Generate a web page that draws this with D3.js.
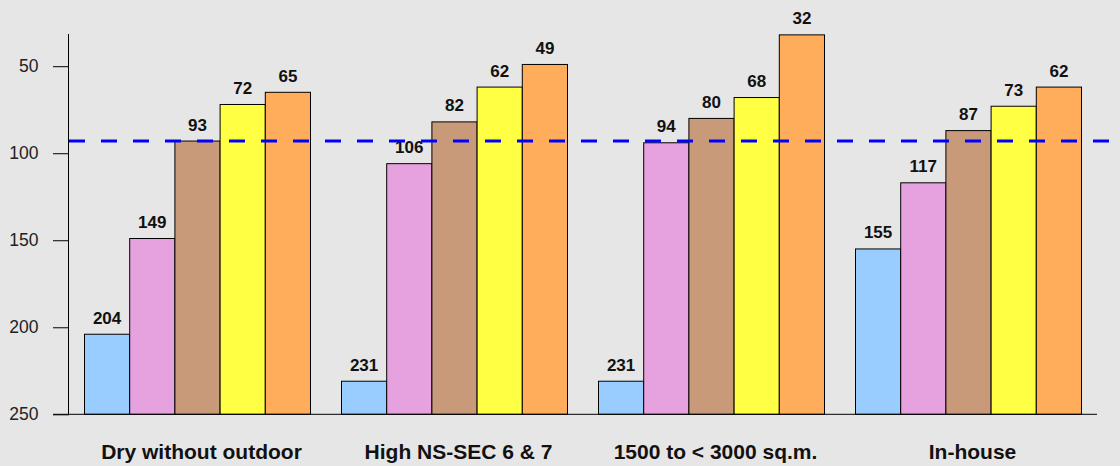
<!DOCTYPE html>
<html><head><meta charset="utf-8">
<script src="https://cdn.jsdelivr.net/npm/d3@7"></script>
<style>
html,body{margin:0;padding:0;background:#e6e6e6;}
svg{display:block;font-family:"Liberation Sans",Arial,sans-serif;}
</style></head>
<body>
<svg id="chart" width="1120" height="466"></svg>
<script>
const categories = ["Dry without outdoor", "High NS-SEC 6 & 7", "1500 to < 3000 sq.m.", "In-house"];
const seriesNames = ["Series 1", "Series 2", "Series 3", "Series 4", "Series 5"];
const seriesColors = ["#99ccff", "#e6a2de", "#c89a7a", "#ffff44", "#ffad5b"];
const series1 = [204, 231, 231, 155];
const series2 = [149, 106, 94, 117];
const series3 = [93, 82, 80, 87];
const series4 = [72, 62, 68, 73];
const series5 = [65, 49, 32, 62];
const referenceValue = 93;
const yTicks = [50, 100, 150, 200, 250];
const yMin = 250, yMax = 31.5;

(function () {
const allSeries = [series1, series2, series3, series4, series5];
const W = 1120, H = 466;
const mLeft = 69, mRight = 1097, mTop = 34, mBottom = 414.3;

const svg = d3.select("#chart");
svg.append("rect").attr("width", W).attr("height", H).attr("fill", "#e6e6e6");

const x0 = d3.scaleBand().domain(categories).range([mLeft, mRight]).paddingInner(31/257).paddingOuter(15.5/257);
const x1 = d3.scaleBand().domain(seriesNames).range([0, x0.bandwidth()]).padding(0);
const y = d3.scaleLinear().domain([yMin, yMax]).range([mBottom, mTop]);

const g = svg.append("g");
categories.forEach((c, ci) => {
  allSeries.forEach((s, si) => {
    const v = s[ci];
    const bx = x0(c) + x1(seriesNames[si]);
    g.append("rect")
      .attr("x", bx)
      .attr("y", y(v))
      .attr("width", x1.bandwidth())
      .attr("height", y(yMin) - y(v))
      .attr("fill", seriesColors[si])
      .attr("stroke", "#000")
      .attr("stroke-width", 1);
    g.append("text")
      .attr("x", bx + x1.bandwidth() / 2)
      .attr("y", y(v) - 10.5)
      .attr("text-anchor", "middle")
      .attr("font-size", 17)
      .attr("font-weight", "bold")
      .attr("fill", "#111")
      .text(v);
  });
});

svg.append("line")
  .attr("x1", mLeft).attr("x2", W)
  .attr("y1", y(referenceValue)).attr("y2", y(referenceValue))
  .attr("stroke", "#0000ff").attr("stroke-width", 3)
  .attr("stroke-dasharray", "16,16");

const yAxis = d3.axisLeft(y).tickValues(yTicks).tickSize(16).tickPadding(14.5);
const ya = svg.append("g").attr("transform", `translate(${mLeft},0)`).call(yAxis);
ya.select(".domain").attr("d", `M-0.5,${mTop}V${mBottom}`).attr("stroke", "#000");
ya.selectAll(".tick line").attr("stroke", "#000");
ya.selectAll(".tick text").attr("font-size", 17.5).attr("fill", "#222").attr("font-family", "Liberation Sans, Arial, sans-serif");

svg.append("line").attr("x1", mLeft - 16).attr("x2", mRight).attr("y1", mBottom).attr("y2", mBottom).attr("stroke", "#000");

const xAxis = d3.axisBottom(x0).tickSize(0).tickPadding(0);
const xa = svg.append("g").attr("transform", `translate(0,${mBottom})`).call(xAxis);
xa.select(".domain").remove();
xa.selectAll(".tick text")
  .attr("x", 4).attr("y", 45).attr("dy", 0)
  .attr("font-size", 21).attr("font-weight", "bold").attr("fill", "#111")
  .attr("font-family", "Liberation Sans, Arial, sans-serif");
})();
</script>
</body></html>
